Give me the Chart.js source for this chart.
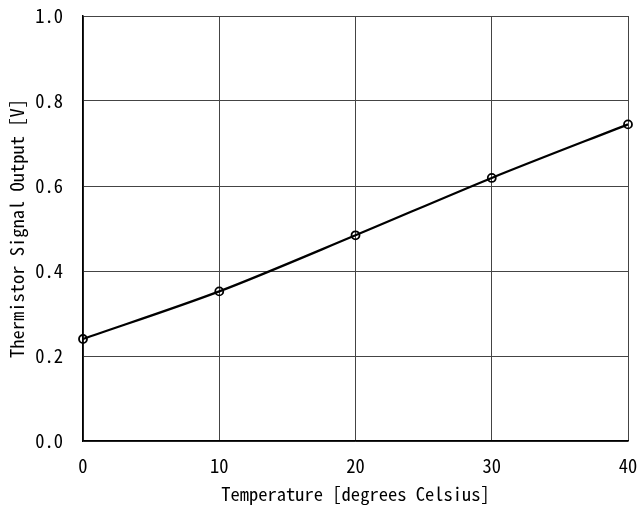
<!DOCTYPE html>
<html>
<head>
<meta charset="utf-8">
<script src="https://cdn.jsdelivr.net/npm/chart.js@4"></script>
<style>
    html, body { margin: 0; padding: 0; background: #fff; }
    #wrap { width: 638px; height: 505px; }
</style>
</head>
<body>
<div id="wrap"><canvas id="chart"></canvas></div>
<script>
const temperatures = [0, 10, 20, 30, 40];
const voltages = [0.240, 0.352, 0.484, 0.619, 0.745];
const xTicks = [0, 10, 20, 30, 40];
const yTicks = [0.0, 0.2, 0.4, 0.6, 0.8, 1.0];

const fontFamily = "'Noto Sans Mono CJK JP', 'Noto Sans CJK JP', 'DejaVu Sans Mono', monospace";

new Chart(document.getElementById('chart'), {
    type: 'scatter',
    data: {
        datasets: [
            {
                data: temperatures.map((t, i) => ({ x: t, y: voltages[i] })),
                showLine: true,
                tension: 0.3,
                borderColor: '#000',
                borderWidth: 2.2,
                pointRadius: 4,
                pointBorderWidth: 1.8,
                pointBorderColor: '#000',
                pointBackgroundColor: 'rgba(0,0,0,0)',
                clip: false,
            },
        ],
    },
    options: {
        responsive: true,
        maintainAspectRatio: false,
        animation: false,
        layout: { padding: { top: 16, right: 10, bottom: 0, left: 0 } },
        plugins: { legend: { display: false }, tooltip: { enabled: false } },
        scales: {
            x: {
                type: 'linear',
                min: 0,
                max: 40,
                afterBuildTicks: scale => { scale.ticks = xTicks.map(v => ({ value: v })); },
                afterFit: scale => {
                    scale.height = 64;
                    scale.paddingLeft = 0;
                    scale.paddingRight = 0;
                },
                grid: { color: '#444', lineWidth: 1, drawTicks: false },
                border: { color: '#000', width: 1.5 },
                ticks: { color: '#000', padding: 14, font: { family: fontFamily, size: 18.5 } },
                title: {
                    display: true,
                    text: 'Temperature [degrees Celsius]',
                    color: '#000',
                    padding: { top: 1, bottom: 0 },
                    font: { family: fontFamily, size: 18.5 },
                },
            },
            y: {
                type: 'linear',
                min: 0,
                max: 1,
                afterBuildTicks: scale => { scale.ticks = yTicks.map(v => ({ value: v })); },
                afterFit: scale => {
                    scale.width = 83;
                    scale.paddingTop = 0;
                    scale.paddingBottom = 0;
                },
                grid: { color: '#444', lineWidth: 1, drawTicks: false },
                border: { color: '#000', width: 1.5 },
                ticks: {
                    color: '#000',
                    padding: 20,
                    font: { family: fontFamily, size: 18.5 },
                    callback: v => v.toFixed(1),
                },
                title: {
                    display: true,
                    text: 'Thermistor Signal Output [V]',
                    color: '#000',
                    padding: { top: 6, bottom: 0 },
                    font: { family: fontFamily, size: 18.5 },
                },
            },
        },
    },
});
</script>
</body>
</html>
